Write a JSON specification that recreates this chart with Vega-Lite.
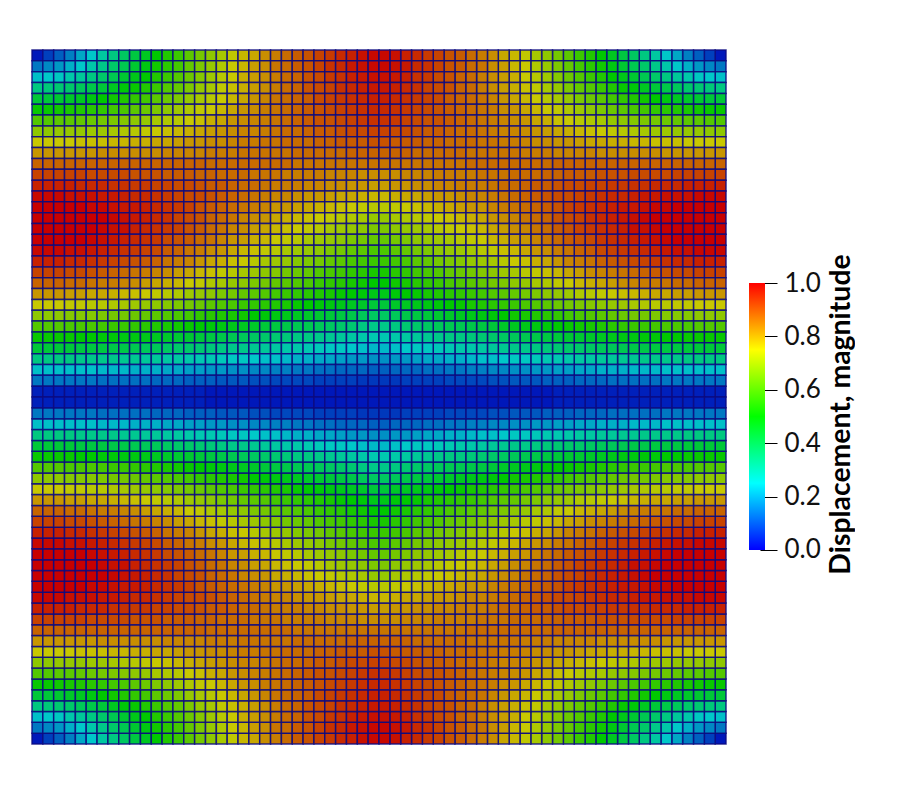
{"$schema":"https://vega.github.io/schema/vega-lite/v6.json","background":"white","padding":{"left":31,"top":49,"right":0,"bottom":0},"spacing":22,"config":{"view":{"stroke":null}},
"datasets":{"bar":[{"lo":0,"hi":1}],"cells":[
{"c":0,"r":0,"v":3},{"c":1,"r":0,"v":8},{"c":2,"r":0,"v":12},{"c":3,"r":0,"v":16},{"c":4,"r":0,"v":21},{"c":5,"r":0,"v":25},{"c":6,"r":0,"v":30},{"c":7,"r":0,"v":34},{"c":8,"r":0,"v":38},{"c":9,"r":0,"v":42},{"c":10,"r":0,"v":46},{"c":11,"r":0,"v":50},{"c":12,"r":0,"v":54},{"c":13,"r":0,"v":57},{"c":14,"r":0,"v":61},{"c":15,"r":0,"v":64},{"c":16,"r":0,"v":67},{"c":17,"r":0,"v":70},{"c":18,"r":0,"v":73},{"c":19,"r":0,"v":76},{"c":20,"r":0,"v":78},{"c":21,"r":0,"v":81},{"c":22,"r":0,"v":83},{"c":23,"r":0,"v":85},{"c":24,"r":0,"v":87},{"c":25,"r":0,"v":88},{"c":26,"r":0,"v":90},{"c":27,"r":0,"v":91},{"c":28,"r":0,"v":93},{"c":29,"r":0,"v":94},{"c":30,"r":0,"v":96},{"c":31,"r":0,"v":97},
{"c":0,"r":1,"v":15},{"c":1,"r":1,"v":17},{"c":2,"r":1,"v":19},{"c":3,"r":1,"v":22},{"c":4,"r":1,"v":25},{"c":5,"r":1,"v":29},{"c":6,"r":1,"v":33},{"c":7,"r":1,"v":37},{"c":8,"r":1,"v":40},{"c":9,"r":1,"v":44},{"c":10,"r":1,"v":48},{"c":11,"r":1,"v":52},{"c":12,"r":1,"v":55},{"c":13,"r":1,"v":58},{"c":14,"r":1,"v":62},{"c":15,"r":1,"v":65},{"c":16,"r":1,"v":68},{"c":17,"r":1,"v":71},{"c":18,"r":1,"v":74},{"c":19,"r":1,"v":76},{"c":20,"r":1,"v":79},{"c":21,"r":1,"v":81},{"c":22,"r":1,"v":84},{"c":23,"r":1,"v":85},{"c":24,"r":1,"v":87},{"c":25,"r":1,"v":88},{"c":26,"r":1,"v":90},{"c":27,"r":1,"v":92},{"c":28,"r":1,"v":93},{"c":29,"r":1,"v":95},{"c":30,"r":1,"v":96},{"c":31,"r":1,"v":97},
{"c":0,"r":2,"v":24},{"c":1,"r":2,"v":25},{"c":2,"r":2,"v":26},{"c":3,"r":2,"v":29},{"c":4,"r":2,"v":31},{"c":5,"r":2,"v":34},{"c":6,"r":2,"v":37},{"c":7,"r":2,"v":40},{"c":8,"r":2,"v":44},{"c":9,"r":2,"v":47},{"c":10,"r":2,"v":50},{"c":11,"r":2,"v":54},{"c":12,"r":2,"v":57},{"c":13,"r":2,"v":60},{"c":14,"r":2,"v":63},{"c":15,"r":2,"v":66},{"c":16,"r":2,"v":69},{"c":17,"r":2,"v":72},{"c":18,"r":2,"v":74},{"c":19,"r":2,"v":77},{"c":20,"r":2,"v":79},{"c":21,"r":2,"v":81},{"c":22,"r":2,"v":83},{"c":23,"r":2,"v":85},{"c":24,"r":2,"v":86},{"c":25,"r":2,"v":88},{"c":26,"r":2,"v":89},{"c":27,"r":2,"v":91},{"c":28,"r":2,"v":92},{"c":29,"r":2,"v":94},{"c":30,"r":2,"v":95},{"c":31,"r":2,"v":96},
{"c":0,"r":3,"v":34},{"c":1,"r":3,"v":35},{"c":2,"r":3,"v":36},{"c":3,"r":3,"v":37},{"c":4,"r":3,"v":39},{"c":5,"r":3,"v":41},{"c":6,"r":3,"v":43},{"c":7,"r":3,"v":46},{"c":8,"r":3,"v":49},{"c":9,"r":3,"v":51},{"c":10,"r":3,"v":54},{"c":11,"r":3,"v":57},{"c":12,"r":3,"v":60},{"c":13,"r":3,"v":62},{"c":14,"r":3,"v":65},{"c":15,"r":3,"v":68},{"c":16,"r":3,"v":70},{"c":17,"r":3,"v":73},{"c":18,"r":3,"v":75},{"c":19,"r":3,"v":77},{"c":20,"r":3,"v":79},{"c":21,"r":3,"v":81},{"c":22,"r":3,"v":83},{"c":23,"r":3,"v":85},{"c":24,"r":3,"v":86},{"c":25,"r":3,"v":88},{"c":26,"r":3,"v":89},{"c":27,"r":3,"v":90},{"c":28,"r":3,"v":92},{"c":29,"r":3,"v":93},{"c":30,"r":3,"v":94},{"c":31,"r":3,"v":95},
{"c":0,"r":4,"v":43},{"c":1,"r":4,"v":43},{"c":2,"r":4,"v":44},{"c":3,"r":4,"v":45},{"c":4,"r":4,"v":46},{"c":5,"r":4,"v":48},{"c":6,"r":4,"v":50},{"c":7,"r":4,"v":52},{"c":8,"r":4,"v":54},{"c":9,"r":4,"v":56},{"c":10,"r":4,"v":58},{"c":11,"r":4,"v":61},{"c":12,"r":4,"v":63},{"c":13,"r":4,"v":65},{"c":14,"r":4,"v":68},{"c":15,"r":4,"v":70},{"c":16,"r":4,"v":72},{"c":17,"r":4,"v":74},{"c":18,"r":4,"v":76},{"c":19,"r":4,"v":78},{"c":20,"r":4,"v":80},{"c":21,"r":4,"v":82},{"c":22,"r":4,"v":84},{"c":23,"r":4,"v":85},{"c":24,"r":4,"v":86},{"c":25,"r":4,"v":87},{"c":26,"r":4,"v":89},{"c":27,"r":4,"v":90},{"c":28,"r":4,"v":91},{"c":29,"r":4,"v":92},{"c":30,"r":4,"v":93},{"c":31,"r":4,"v":94},
{"c":0,"r":5,"v":51},{"c":1,"r":5,"v":51},{"c":2,"r":5,"v":52},{"c":3,"r":5,"v":53},{"c":4,"r":5,"v":54},{"c":5,"r":5,"v":55},{"c":6,"r":5,"v":56},{"c":7,"r":5,"v":58},{"c":8,"r":5,"v":59},{"c":9,"r":5,"v":61},{"c":10,"r":5,"v":63},{"c":11,"r":5,"v":65},{"c":12,"r":5,"v":67},{"c":13,"r":5,"v":69},{"c":14,"r":5,"v":71},{"c":15,"r":5,"v":73},{"c":16,"r":5,"v":74},{"c":17,"r":5,"v":76},{"c":18,"r":5,"v":78},{"c":19,"r":5,"v":80},{"c":20,"r":5,"v":81},{"c":21,"r":5,"v":83},{"c":22,"r":5,"v":84},{"c":23,"r":5,"v":85},{"c":24,"r":5,"v":86},{"c":25,"r":5,"v":87},{"c":26,"r":5,"v":88},{"c":27,"r":5,"v":89},{"c":28,"r":5,"v":90},{"c":29,"r":5,"v":91},{"c":30,"r":5,"v":92},{"c":31,"r":5,"v":93},
{"c":0,"r":6,"v":60},{"c":1,"r":6,"v":60},{"c":2,"r":6,"v":61},{"c":3,"r":6,"v":61},{"c":4,"r":6,"v":62},{"c":5,"r":6,"v":63},{"c":6,"r":6,"v":64},{"c":7,"r":6,"v":65},{"c":8,"r":6,"v":66},{"c":9,"r":6,"v":67},{"c":10,"r":6,"v":68},{"c":11,"r":6,"v":70},{"c":12,"r":6,"v":71},{"c":13,"r":6,"v":72},{"c":14,"r":6,"v":74},{"c":15,"r":6,"v":75},{"c":16,"r":6,"v":77},{"c":17,"r":6,"v":78},{"c":18,"r":6,"v":80},{"c":19,"r":6,"v":81},{"c":20,"r":6,"v":82},{"c":21,"r":6,"v":83},{"c":22,"r":6,"v":84},{"c":23,"r":6,"v":85},{"c":24,"r":6,"v":86},{"c":25,"r":6,"v":87},{"c":26,"r":6,"v":88},{"c":27,"r":6,"v":88},{"c":28,"r":6,"v":89},{"c":29,"r":6,"v":90},{"c":30,"r":6,"v":91},{"c":31,"r":6,"v":92},
{"c":0,"r":7,"v":67},{"c":1,"r":7,"v":67},{"c":2,"r":7,"v":68},{"c":3,"r":7,"v":68},{"c":4,"r":7,"v":68},{"c":5,"r":7,"v":69},{"c":6,"r":7,"v":69},{"c":7,"r":7,"v":70},{"c":8,"r":7,"v":71},{"c":9,"r":7,"v":72},{"c":10,"r":7,"v":73},{"c":11,"r":7,"v":74},{"c":12,"r":7,"v":75},{"c":13,"r":7,"v":76},{"c":14,"r":7,"v":77},{"c":15,"r":7,"v":78},{"c":16,"r":7,"v":79},{"c":17,"r":7,"v":80},{"c":18,"r":7,"v":81},{"c":19,"r":7,"v":82},{"c":20,"r":7,"v":82},{"c":21,"r":7,"v":83},{"c":22,"r":7,"v":84},{"c":23,"r":7,"v":85},{"c":24,"r":7,"v":85},{"c":25,"r":7,"v":86},{"c":26,"r":7,"v":87},{"c":27,"r":7,"v":87},{"c":28,"r":7,"v":88},{"c":29,"r":7,"v":89},{"c":30,"r":7,"v":89},{"c":31,"r":7,"v":90},
{"c":0,"r":8,"v":74},{"c":1,"r":8,"v":74},{"c":2,"r":8,"v":74},{"c":3,"r":8,"v":74},{"c":4,"r":8,"v":75},{"c":5,"r":8,"v":75},{"c":6,"r":8,"v":75},{"c":7,"r":8,"v":76},{"c":8,"r":8,"v":76},{"c":9,"r":8,"v":77},{"c":10,"r":8,"v":77},{"c":11,"r":8,"v":78},{"c":12,"r":8,"v":78},{"c":13,"r":8,"v":79},{"c":14,"r":8,"v":80},{"c":15,"r":8,"v":80},{"c":16,"r":8,"v":81},{"c":17,"r":8,"v":81},{"c":18,"r":8,"v":82},{"c":19,"r":8,"v":83},{"c":20,"r":8,"v":83},{"c":21,"r":8,"v":84},{"c":22,"r":8,"v":84},{"c":23,"r":8,"v":85},{"c":24,"r":8,"v":85},{"c":25,"r":8,"v":85},{"c":26,"r":8,"v":86},{"c":27,"r":8,"v":86},{"c":28,"r":8,"v":87},{"c":29,"r":8,"v":87},{"c":30,"r":8,"v":87},{"c":31,"r":8,"v":88},
{"c":0,"r":9,"v":80},{"c":1,"r":9,"v":80},{"c":2,"r":9,"v":80},{"c":3,"r":9,"v":80},{"c":4,"r":9,"v":80},{"c":5,"r":9,"v":80},{"c":6,"r":9,"v":81},{"c":7,"r":9,"v":81},{"c":8,"r":9,"v":81},{"c":9,"r":9,"v":81},{"c":10,"r":9,"v":81},{"c":11,"r":9,"v":81},{"c":12,"r":9,"v":82},{"c":13,"r":9,"v":82},{"c":14,"r":9,"v":82},{"c":15,"r":9,"v":82},{"c":16,"r":9,"v":83},{"c":17,"r":9,"v":83},{"c":18,"r":9,"v":83},{"c":19,"r":9,"v":84},{"c":20,"r":9,"v":84},{"c":21,"r":9,"v":84},{"c":22,"r":9,"v":84},{"c":23,"r":9,"v":84},{"c":24,"r":9,"v":85},{"c":25,"r":9,"v":85},{"c":26,"r":9,"v":85},{"c":27,"r":9,"v":85},{"c":28,"r":9,"v":85},{"c":29,"r":9,"v":86},{"c":30,"r":9,"v":86},{"c":31,"r":9,"v":86},
{"c":0,"r":10,"v":86},{"c":1,"r":10,"v":86},{"c":2,"r":10,"v":86},{"c":3,"r":10,"v":86},{"c":4,"r":10,"v":86},{"c":5,"r":10,"v":86},{"c":6,"r":10,"v":86},{"c":7,"r":10,"v":86},{"c":8,"r":10,"v":86},{"c":9,"r":10,"v":86},{"c":10,"r":10,"v":86},{"c":11,"r":10,"v":86},{"c":12,"r":10,"v":86},{"c":13,"r":10,"v":86},{"c":14,"r":10,"v":86},{"c":15,"r":10,"v":86},{"c":16,"r":10,"v":85},{"c":17,"r":10,"v":85},{"c":18,"r":10,"v":85},{"c":19,"r":10,"v":85},{"c":20,"r":10,"v":85},{"c":21,"r":10,"v":85},{"c":22,"r":10,"v":85},{"c":23,"r":10,"v":85},{"c":24,"r":10,"v":84},{"c":25,"r":10,"v":84},{"c":26,"r":10,"v":84},{"c":27,"r":10,"v":84},{"c":28,"r":10,"v":84},{"c":29,"r":10,"v":84},{"c":30,"r":10,"v":84},{"c":31,"r":10,"v":84},
{"c":0,"r":11,"v":90},{"c":1,"r":11,"v":90},{"c":2,"r":11,"v":90},{"c":3,"r":11,"v":90},{"c":4,"r":11,"v":90},{"c":5,"r":11,"v":89},{"c":6,"r":11,"v":89},{"c":7,"r":11,"v":89},{"c":8,"r":11,"v":89},{"c":9,"r":11,"v":88},{"c":10,"r":11,"v":88},{"c":11,"r":11,"v":88},{"c":12,"r":11,"v":87},{"c":13,"r":11,"v":87},{"c":14,"r":11,"v":87},{"c":15,"r":11,"v":86},{"c":16,"r":11,"v":86},{"c":17,"r":11,"v":85},{"c":18,"r":11,"v":85},{"c":19,"r":11,"v":85},{"c":20,"r":11,"v":84},{"c":21,"r":11,"v":84},{"c":22,"r":11,"v":84},{"c":23,"r":11,"v":83},{"c":24,"r":11,"v":83},{"c":25,"r":11,"v":83},{"c":26,"r":11,"v":83},{"c":27,"r":11,"v":82},{"c":28,"r":11,"v":82},{"c":29,"r":11,"v":82},{"c":30,"r":11,"v":81},{"c":31,"r":11,"v":81},
{"c":0,"r":12,"v":94},{"c":1,"r":12,"v":94},{"c":2,"r":12,"v":94},{"c":3,"r":12,"v":94},{"c":4,"r":12,"v":93},{"c":5,"r":12,"v":93},{"c":6,"r":12,"v":93},{"c":7,"r":12,"v":92},{"c":8,"r":12,"v":92},{"c":9,"r":12,"v":91},{"c":10,"r":12,"v":91},{"c":11,"r":12,"v":90},{"c":12,"r":12,"v":90},{"c":13,"r":12,"v":89},{"c":14,"r":12,"v":89},{"c":15,"r":12,"v":88},{"c":16,"r":12,"v":87},{"c":17,"r":12,"v":87},{"c":18,"r":12,"v":86},{"c":19,"r":12,"v":85},{"c":20,"r":12,"v":85},{"c":21,"r":12,"v":84},{"c":22,"r":12,"v":83},{"c":23,"r":12,"v":83},{"c":24,"r":12,"v":83},{"c":25,"r":12,"v":82},{"c":26,"r":12,"v":82},{"c":27,"r":12,"v":81},{"c":28,"r":12,"v":81},{"c":29,"r":12,"v":80},{"c":30,"r":12,"v":80},{"c":31,"r":12,"v":79},
{"c":0,"r":13,"v":97},{"c":1,"r":13,"v":97},{"c":2,"r":13,"v":97},{"c":3,"r":13,"v":96},{"c":4,"r":13,"v":96},{"c":5,"r":13,"v":96},{"c":6,"r":13,"v":95},{"c":7,"r":13,"v":95},{"c":8,"r":13,"v":94},{"c":9,"r":13,"v":93},{"c":10,"r":13,"v":93},{"c":11,"r":13,"v":92},{"c":12,"r":13,"v":91},{"c":13,"r":13,"v":90},{"c":14,"r":13,"v":89},{"c":15,"r":13,"v":89},{"c":16,"r":13,"v":88},{"c":17,"r":13,"v":87},{"c":18,"r":13,"v":86},{"c":19,"r":13,"v":85},{"c":20,"r":13,"v":84},{"c":21,"r":13,"v":83},{"c":22,"r":13,"v":82},{"c":23,"r":13,"v":82},{"c":24,"r":13,"v":81},{"c":25,"r":13,"v":80},{"c":26,"r":13,"v":80},{"c":27,"r":13,"v":79},{"c":28,"r":13,"v":78},{"c":29,"r":13,"v":78},{"c":30,"r":13,"v":77},{"c":31,"r":13,"v":76},
{"c":0,"r":14,"v":99},{"c":1,"r":14,"v":99},{"c":2,"r":14,"v":99},{"c":3,"r":14,"v":98},{"c":4,"r":14,"v":98},{"c":5,"r":14,"v":97},{"c":6,"r":14,"v":97},{"c":7,"r":14,"v":96},{"c":8,"r":14,"v":95},{"c":9,"r":14,"v":95},{"c":10,"r":14,"v":94},{"c":11,"r":14,"v":93},{"c":12,"r":14,"v":92},{"c":13,"r":14,"v":91},{"c":14,"r":14,"v":90},{"c":15,"r":14,"v":88},{"c":16,"r":14,"v":87},{"c":17,"r":14,"v":86},{"c":18,"r":14,"v":85},{"c":19,"r":14,"v":84},{"c":20,"r":14,"v":83},{"c":21,"r":14,"v":82},{"c":22,"r":14,"v":80},{"c":23,"r":14,"v":80},{"c":24,"r":14,"v":79},{"c":25,"r":14,"v":78},{"c":26,"r":14,"v":77},{"c":27,"r":14,"v":76},{"c":28,"r":14,"v":75},{"c":29,"r":14,"v":74},{"c":30,"r":14,"v":73},{"c":31,"r":14,"v":72},
{"c":0,"r":15,"v":100},{"c":1,"r":15,"v":100},{"c":2,"r":15,"v":99},{"c":3,"r":15,"v":99},{"c":4,"r":15,"v":99},{"c":5,"r":15,"v":98},{"c":6,"r":15,"v":98},{"c":7,"r":15,"v":97},{"c":8,"r":15,"v":96},{"c":9,"r":15,"v":95},{"c":10,"r":15,"v":94},{"c":11,"r":15,"v":93},{"c":12,"r":15,"v":92},{"c":13,"r":15,"v":90},{"c":14,"r":15,"v":89},{"c":15,"r":15,"v":88},{"c":16,"r":15,"v":86},{"c":17,"r":15,"v":85},{"c":18,"r":15,"v":84},{"c":19,"r":15,"v":82},{"c":20,"r":15,"v":81},{"c":21,"r":15,"v":80},{"c":22,"r":15,"v":78},{"c":23,"r":15,"v":77},{"c":24,"r":15,"v":76},{"c":25,"r":15,"v":75},{"c":26,"r":15,"v":74},{"c":27,"r":15,"v":73},{"c":28,"r":15,"v":72},{"c":29,"r":15,"v":71},{"c":30,"r":15,"v":70},{"c":31,"r":15,"v":68},
{"c":0,"r":16,"v":100},{"c":1,"r":16,"v":100},{"c":2,"r":16,"v":99},{"c":3,"r":16,"v":99},{"c":4,"r":16,"v":99},{"c":5,"r":16,"v":98},{"c":6,"r":16,"v":97},{"c":7,"r":16,"v":96},{"c":8,"r":16,"v":96},{"c":9,"r":16,"v":94},{"c":10,"r":16,"v":93},{"c":11,"r":16,"v":92},{"c":12,"r":16,"v":91},{"c":13,"r":16,"v":90},{"c":14,"r":16,"v":88},{"c":15,"r":16,"v":87},{"c":16,"r":16,"v":85},{"c":17,"r":16,"v":84},{"c":18,"r":16,"v":82},{"c":19,"r":16,"v":81},{"c":20,"r":16,"v":79},{"c":21,"r":16,"v":78},{"c":22,"r":16,"v":76},{"c":23,"r":16,"v":75},{"c":24,"r":16,"v":74},{"c":25,"r":16,"v":73},{"c":26,"r":16,"v":72},{"c":27,"r":16,"v":70},{"c":28,"r":16,"v":69},{"c":29,"r":16,"v":68},{"c":30,"r":16,"v":67},{"c":31,"r":16,"v":65},
{"c":0,"r":17,"v":99},{"c":1,"r":17,"v":99},{"c":2,"r":17,"v":99},{"c":3,"r":17,"v":98},{"c":4,"r":17,"v":98},{"c":5,"r":17,"v":97},{"c":6,"r":17,"v":96},{"c":7,"r":17,"v":95},{"c":8,"r":17,"v":94},{"c":9,"r":17,"v":93},{"c":10,"r":17,"v":92},{"c":11,"r":17,"v":91},{"c":12,"r":17,"v":89},{"c":13,"r":17,"v":88},{"c":14,"r":17,"v":87},{"c":15,"r":17,"v":85},{"c":16,"r":17,"v":84},{"c":17,"r":17,"v":82},{"c":18,"r":17,"v":80},{"c":19,"r":17,"v":79},{"c":20,"r":17,"v":77},{"c":21,"r":17,"v":76},{"c":22,"r":17,"v":74},{"c":23,"r":17,"v":73},{"c":24,"r":17,"v":72},{"c":25,"r":17,"v":70},{"c":26,"r":17,"v":69},{"c":27,"r":17,"v":68},{"c":28,"r":17,"v":67},{"c":29,"r":17,"v":65},{"c":30,"r":17,"v":64},{"c":31,"r":17,"v":62},
{"c":0,"r":18,"v":97},{"c":1,"r":18,"v":97},{"c":2,"r":18,"v":97},{"c":3,"r":18,"v":96},{"c":4,"r":18,"v":96},{"c":5,"r":18,"v":95},{"c":6,"r":18,"v":94},{"c":7,"r":18,"v":93},{"c":8,"r":18,"v":92},{"c":9,"r":18,"v":91},{"c":10,"r":18,"v":90},{"c":11,"r":18,"v":89},{"c":12,"r":18,"v":87},{"c":13,"r":18,"v":86},{"c":14,"r":18,"v":84},{"c":15,"r":18,"v":83},{"c":16,"r":18,"v":81},{"c":17,"r":18,"v":80},{"c":18,"r":18,"v":78},{"c":19,"r":18,"v":76},{"c":20,"r":18,"v":75},{"c":21,"r":18,"v":73},{"c":22,"r":18,"v":72},{"c":23,"r":18,"v":70},{"c":24,"r":18,"v":69},{"c":25,"r":18,"v":68},{"c":26,"r":18,"v":67},{"c":27,"r":18,"v":65},{"c":28,"r":18,"v":64},{"c":29,"r":18,"v":62},{"c":30,"r":18,"v":61},{"c":31,"r":18,"v":59},
{"c":0,"r":19,"v":94},{"c":1,"r":19,"v":94},{"c":2,"r":19,"v":94},{"c":3,"r":19,"v":93},{"c":4,"r":19,"v":93},{"c":5,"r":19,"v":92},{"c":6,"r":19,"v":91},{"c":7,"r":19,"v":90},{"c":8,"r":19,"v":89},{"c":9,"r":19,"v":88},{"c":10,"r":19,"v":87},{"c":11,"r":19,"v":86},{"c":12,"r":19,"v":84},{"c":13,"r":19,"v":83},{"c":14,"r":19,"v":82},{"c":15,"r":19,"v":80},{"c":16,"r":19,"v":78},{"c":17,"r":19,"v":77},{"c":18,"r":19,"v":75},{"c":19,"r":19,"v":74},{"c":20,"r":19,"v":72},{"c":21,"r":19,"v":70},{"c":22,"r":19,"v":69},{"c":23,"r":19,"v":68},{"c":24,"r":19,"v":66},{"c":25,"r":19,"v":65},{"c":26,"r":19,"v":64},{"c":27,"r":19,"v":62},{"c":28,"r":19,"v":61},{"c":29,"r":19,"v":59},{"c":30,"r":19,"v":58},{"c":31,"r":19,"v":57},
{"c":0,"r":20,"v":90},{"c":1,"r":20,"v":90},{"c":2,"r":20,"v":90},{"c":3,"r":20,"v":89},{"c":4,"r":20,"v":89},{"c":5,"r":20,"v":88},{"c":6,"r":20,"v":87},{"c":7,"r":20,"v":86},{"c":8,"r":20,"v":85},{"c":9,"r":20,"v":84},{"c":10,"r":20,"v":83},{"c":11,"r":20,"v":82},{"c":12,"r":20,"v":81},{"c":13,"r":20,"v":79},{"c":14,"r":20,"v":78},{"c":15,"r":20,"v":76},{"c":16,"r":20,"v":75},{"c":17,"r":20,"v":73},{"c":18,"r":20,"v":72},{"c":19,"r":20,"v":70},{"c":20,"r":20,"v":69},{"c":21,"r":20,"v":67},{"c":22,"r":20,"v":66},{"c":23,"r":20,"v":64},{"c":24,"r":20,"v":63},{"c":25,"r":20,"v":62},{"c":26,"r":20,"v":60},{"c":27,"r":20,"v":59},{"c":28,"r":20,"v":58},{"c":29,"r":20,"v":56},{"c":30,"r":20,"v":55},{"c":31,"r":20,"v":53},
{"c":0,"r":21,"v":86},{"c":1,"r":21,"v":86},{"c":2,"r":21,"v":86},{"c":3,"r":21,"v":85},{"c":4,"r":21,"v":85},{"c":5,"r":21,"v":84},{"c":6,"r":21,"v":83},{"c":7,"r":21,"v":83},{"c":8,"r":21,"v":82},{"c":9,"r":21,"v":81},{"c":10,"r":21,"v":79},{"c":11,"r":21,"v":78},{"c":12,"r":21,"v":77},{"c":13,"r":21,"v":76},{"c":14,"r":21,"v":74},{"c":15,"r":21,"v":73},{"c":16,"r":21,"v":71},{"c":17,"r":21,"v":70},{"c":18,"r":21,"v":68},{"c":19,"r":21,"v":67},{"c":20,"r":21,"v":65},{"c":21,"r":21,"v":64},{"c":22,"r":21,"v":62},{"c":23,"r":21,"v":61},{"c":24,"r":21,"v":60},{"c":25,"r":21,"v":59},{"c":26,"r":21,"v":57},{"c":27,"r":21,"v":56},{"c":28,"r":21,"v":55},{"c":29,"r":21,"v":53},{"c":30,"r":21,"v":52},{"c":31,"r":21,"v":50},
{"c":0,"r":22,"v":80},{"c":1,"r":22,"v":80},{"c":2,"r":22,"v":80},{"c":3,"r":22,"v":79},{"c":4,"r":22,"v":79},{"c":5,"r":22,"v":78},{"c":6,"r":22,"v":78},{"c":7,"r":22,"v":77},{"c":8,"r":22,"v":76},{"c":9,"r":22,"v":75},{"c":10,"r":22,"v":74},{"c":11,"r":22,"v":73},{"c":12,"r":22,"v":72},{"c":13,"r":22,"v":71},{"c":14,"r":22,"v":69},{"c":15,"r":22,"v":68},{"c":16,"r":22,"v":67},{"c":17,"r":22,"v":65},{"c":18,"r":22,"v":64},{"c":19,"r":22,"v":62},{"c":20,"r":22,"v":61},{"c":21,"r":22,"v":60},{"c":22,"r":22,"v":58},{"c":23,"r":22,"v":57},{"c":24,"r":22,"v":56},{"c":25,"r":22,"v":55},{"c":26,"r":22,"v":54},{"c":27,"r":22,"v":53},{"c":28,"r":22,"v":51},{"c":29,"r":22,"v":50},{"c":30,"r":22,"v":49},{"c":31,"r":22,"v":47},
{"c":0,"r":23,"v":74},{"c":1,"r":23,"v":74},{"c":2,"r":23,"v":74},{"c":3,"r":23,"v":73},{"c":4,"r":23,"v":73},{"c":5,"r":23,"v":72},{"c":6,"r":23,"v":72},{"c":7,"r":23,"v":71},{"c":8,"r":23,"v":70},{"c":9,"r":23,"v":69},{"c":10,"r":23,"v":68},{"c":11,"r":23,"v":67},{"c":12,"r":23,"v":66},{"c":13,"r":23,"v":65},{"c":14,"r":23,"v":64},{"c":15,"r":23,"v":63},{"c":16,"r":23,"v":61},{"c":17,"r":23,"v":60},{"c":18,"r":23,"v":59},{"c":19,"r":23,"v":57},{"c":20,"r":23,"v":56},{"c":21,"r":23,"v":55},{"c":22,"r":23,"v":54},{"c":23,"r":23,"v":53},{"c":24,"r":23,"v":51},{"c":25,"r":23,"v":50},{"c":26,"r":23,"v":49},{"c":27,"r":23,"v":48},{"c":28,"r":23,"v":47},{"c":29,"r":23,"v":46},{"c":30,"r":23,"v":45},{"c":31,"r":23,"v":43},
{"c":0,"r":24,"v":67},{"c":1,"r":24,"v":67},{"c":2,"r":24,"v":67},{"c":3,"r":24,"v":66},{"c":4,"r":24,"v":66},{"c":5,"r":24,"v":66},{"c":6,"r":24,"v":65},{"c":7,"r":24,"v":64},{"c":8,"r":24,"v":64},{"c":9,"r":24,"v":63},{"c":10,"r":24,"v":62},{"c":11,"r":24,"v":61},{"c":12,"r":24,"v":60},{"c":13,"r":24,"v":59},{"c":14,"r":24,"v":58},{"c":15,"r":24,"v":56},{"c":16,"r":24,"v":55},{"c":17,"r":24,"v":54},{"c":18,"r":24,"v":53},{"c":19,"r":24,"v":52},{"c":20,"r":24,"v":50},{"c":21,"r":24,"v":49},{"c":22,"r":24,"v":48},{"c":23,"r":24,"v":47},{"c":24,"r":24,"v":46},{"c":25,"r":24,"v":45},{"c":26,"r":24,"v":44},{"c":27,"r":24,"v":43},{"c":28,"r":24,"v":42},{"c":29,"r":24,"v":41},{"c":30,"r":24,"v":39},{"c":31,"r":24,"v":38},
{"c":0,"r":25,"v":60},{"c":1,"r":25,"v":60},{"c":2,"r":25,"v":60},{"c":3,"r":25,"v":59},{"c":4,"r":25,"v":59},{"c":5,"r":25,"v":59},{"c":6,"r":25,"v":58},{"c":7,"r":25,"v":57},{"c":8,"r":25,"v":57},{"c":9,"r":25,"v":56},{"c":10,"r":25,"v":55},{"c":11,"r":25,"v":54},{"c":12,"r":25,"v":53},{"c":13,"r":25,"v":52},{"c":14,"r":25,"v":51},{"c":15,"r":25,"v":50},{"c":16,"r":25,"v":49},{"c":17,"r":25,"v":48},{"c":18,"r":25,"v":47},{"c":19,"r":25,"v":46},{"c":20,"r":25,"v":45},{"c":21,"r":25,"v":43},{"c":22,"r":25,"v":42},{"c":23,"r":25,"v":41},{"c":24,"r":25,"v":40},{"c":25,"r":25,"v":40},{"c":26,"r":25,"v":39},{"c":27,"r":25,"v":38},{"c":28,"r":25,"v":37},{"c":29,"r":25,"v":36},{"c":30,"r":25,"v":34},{"c":31,"r":25,"v":33},
{"c":0,"r":26,"v":51},{"c":1,"r":26,"v":51},{"c":2,"r":26,"v":51},{"c":3,"r":26,"v":51},{"c":4,"r":26,"v":50},{"c":5,"r":26,"v":50},{"c":6,"r":26,"v":49},{"c":7,"r":26,"v":49},{"c":8,"r":26,"v":48},{"c":9,"r":26,"v":48},{"c":10,"r":26,"v":47},{"c":11,"r":26,"v":46},{"c":12,"r":26,"v":45},{"c":13,"r":26,"v":44},{"c":14,"r":26,"v":44},{"c":15,"r":26,"v":43},{"c":16,"r":26,"v":42},{"c":17,"r":26,"v":41},{"c":18,"r":26,"v":40},{"c":19,"r":26,"v":39},{"c":20,"r":26,"v":38},{"c":21,"r":26,"v":37},{"c":22,"r":26,"v":36},{"c":23,"r":26,"v":35},{"c":24,"r":26,"v":34},{"c":25,"r":26,"v":34},{"c":26,"r":26,"v":33},{"c":27,"r":26,"v":32},{"c":28,"r":26,"v":31},{"c":29,"r":26,"v":30},{"c":30,"r":26,"v":29},{"c":31,"r":26,"v":28},
{"c":0,"r":27,"v":43},{"c":1,"r":27,"v":43},{"c":2,"r":27,"v":43},{"c":3,"r":27,"v":43},{"c":4,"r":27,"v":42},{"c":5,"r":27,"v":42},{"c":6,"r":27,"v":42},{"c":7,"r":27,"v":41},{"c":8,"r":27,"v":41},{"c":9,"r":27,"v":40},{"c":10,"r":27,"v":39},{"c":11,"r":27,"v":39},{"c":12,"r":27,"v":38},{"c":13,"r":27,"v":37},{"c":14,"r":27,"v":37},{"c":15,"r":27,"v":36},{"c":16,"r":27,"v":35},{"c":17,"r":27,"v":34},{"c":18,"r":27,"v":33},{"c":19,"r":27,"v":33},{"c":20,"r":27,"v":32},{"c":21,"r":27,"v":31},{"c":22,"r":27,"v":30},{"c":23,"r":27,"v":29},{"c":24,"r":27,"v":29},{"c":25,"r":27,"v":28},{"c":26,"r":27,"v":27},{"c":27,"r":27,"v":26},{"c":28,"r":27,"v":26},{"c":29,"r":27,"v":25},{"c":30,"r":27,"v":24},{"c":31,"r":27,"v":23},
{"c":0,"r":28,"v":34},{"c":1,"r":28,"v":34},{"c":2,"r":28,"v":34},{"c":3,"r":28,"v":34},{"c":4,"r":28,"v":33},{"c":5,"r":28,"v":33},{"c":6,"r":28,"v":33},{"c":7,"r":28,"v":33},{"c":8,"r":28,"v":32},{"c":9,"r":28,"v":32},{"c":10,"r":28,"v":31},{"c":11,"r":28,"v":31},{"c":12,"r":28,"v":30},{"c":13,"r":28,"v":30},{"c":14,"r":28,"v":29},{"c":15,"r":28,"v":28},{"c":16,"r":28,"v":28},{"c":17,"r":28,"v":27},{"c":18,"r":28,"v":26},{"c":19,"r":28,"v":26},{"c":20,"r":28,"v":25},{"c":21,"r":28,"v":24},{"c":22,"r":28,"v":24},{"c":23,"r":28,"v":23},{"c":24,"r":28,"v":22},{"c":25,"r":28,"v":22},{"c":26,"r":28,"v":21},{"c":27,"r":28,"v":21},{"c":28,"r":28,"v":20},{"c":29,"r":28,"v":19},{"c":30,"r":28,"v":19},{"c":31,"r":28,"v":18},
{"c":0,"r":29,"v":24},{"c":1,"r":29,"v":24},{"c":2,"r":29,"v":24},{"c":3,"r":29,"v":24},{"c":4,"r":29,"v":24},{"c":5,"r":29,"v":24},{"c":6,"r":29,"v":23},{"c":7,"r":29,"v":23},{"c":8,"r":29,"v":23},{"c":9,"r":29,"v":22},{"c":10,"r":29,"v":22},{"c":11,"r":29,"v":22},{"c":12,"r":29,"v":21},{"c":13,"r":29,"v":21},{"c":14,"r":29,"v":20},{"c":15,"r":29,"v":20},{"c":16,"r":29,"v":19},{"c":17,"r":29,"v":19},{"c":18,"r":29,"v":18},{"c":19,"r":29,"v":18},{"c":20,"r":29,"v":17},{"c":21,"r":29,"v":17},{"c":22,"r":29,"v":16},{"c":23,"r":29,"v":16},{"c":24,"r":29,"v":15},{"c":25,"r":29,"v":15},{"c":26,"r":29,"v":14},{"c":27,"r":29,"v":14},{"c":28,"r":29,"v":13},{"c":29,"r":29,"v":13},{"c":30,"r":29,"v":13},{"c":31,"r":29,"v":12},
{"c":0,"r":30,"v":15},{"c":1,"r":30,"v":15},{"c":2,"r":30,"v":15},{"c":3,"r":30,"v":15},{"c":4,"r":30,"v":15},{"c":5,"r":30,"v":15},{"c":6,"r":30,"v":14},{"c":7,"r":30,"v":14},{"c":8,"r":30,"v":14},{"c":9,"r":30,"v":14},{"c":10,"r":30,"v":14},{"c":11,"r":30,"v":13},{"c":12,"r":30,"v":13},{"c":13,"r":30,"v":13},{"c":14,"r":30,"v":12},{"c":15,"r":30,"v":12},{"c":16,"r":30,"v":12},{"c":17,"r":30,"v":11},{"c":18,"r":30,"v":11},{"c":19,"r":30,"v":11},{"c":20,"r":30,"v":10},{"c":21,"r":30,"v":10},{"c":22,"r":30,"v":9},{"c":23,"r":30,"v":9},{"c":24,"r":30,"v":9},{"c":25,"r":30,"v":9},{"c":26,"r":30,"v":8},{"c":27,"r":30,"v":8},{"c":28,"r":30,"v":8},{"c":29,"r":30,"v":8},{"c":30,"r":30,"v":7},{"c":31,"r":30,"v":7},
{"c":0,"r":31,"v":4},{"c":1,"r":31,"v":4},{"c":2,"r":31,"v":4},{"c":3,"r":31,"v":4},{"c":4,"r":31,"v":4},{"c":5,"r":31,"v":4},{"c":6,"r":31,"v":4},{"c":7,"r":31,"v":4},{"c":8,"r":31,"v":4},{"c":9,"r":31,"v":4},{"c":10,"r":31,"v":4},{"c":11,"r":31,"v":4},{"c":12,"r":31,"v":4},{"c":13,"r":31,"v":4},{"c":14,"r":31,"v":4},{"c":15,"r":31,"v":4},{"c":16,"r":31,"v":3},{"c":17,"r":31,"v":3},{"c":18,"r":31,"v":3},{"c":19,"r":31,"v":3},{"c":20,"r":31,"v":3},{"c":21,"r":31,"v":3},{"c":22,"r":31,"v":3},{"c":23,"r":31,"v":3},{"c":24,"r":31,"v":3},{"c":25,"r":31,"v":3},{"c":26,"r":31,"v":3},{"c":27,"r":31,"v":3},{"c":28,"r":31,"v":3},{"c":29,"r":31,"v":3},{"c":30,"r":31,"v":3},{"c":31,"r":31,"v":3}
]},
"hconcat":[
{"width":694,"height":694,"data":{"name":"cells"},
"encoding":{"color":{"field":"v","type":"quantitative","legend":null,"scale":{"interpolate":"rgb","clamp":true,"domain":[0,25,50,74,98],"range":["#0000b8","#00c8c8","#00c800","#c8c800","#c80000"]}}},
"resolve":{"scale":{"x":"independent","y":"independent"}},
"layer":[
{"mark":{"type":"rect","stroke":"#0c0a80","strokeWidth":1.5,"strokeOpacity":0.85},"encoding":{"x":{"field":"c","type":"ordinal","axis":null,"scale":{"paddingInner":0,"paddingOuter":0,"domain":[0,1,2,3,4,5,6,7,8,9,10,11,12,13,14,15,16,17,18,19,20,21,22,23,24,25,26,27,28,29,30,31,32,33,34,35,36,37,38,39,40,41,42,43,44,45,46,47,48,49,50,51,52,53,54,55,56,57,58,59,60,61,62,63]}},"y":{"field":"r","type":"ordinal","axis":null,"scale":{"paddingInner":0,"paddingOuter":0,"domain":[0,1,2,3,4,5,6,7,8,9,10,11,12,13,14,15,16,17,18,19,20,21,22,23,24,25,26,27,28,29,30,31,32,33,34,35,36,37,38,39,40,41,42,43,44,45,46,47,48,49,50,51,52,53,54,55,56,57,58,59,60,61,62,63]}}}},
{"mark":{"type":"rect","stroke":"#0c0a80","strokeWidth":1.5,"strokeOpacity":0.85},"encoding":{"x":{"field":"c","type":"ordinal","axis":null,"scale":{"reverse":true,"paddingInner":0,"paddingOuter":0,"domain":[0,1,2,3,4,5,6,7,8,9,10,11,12,13,14,15,16,17,18,19,20,21,22,23,24,25,26,27,28,29,30,31,32,33,34,35,36,37,38,39,40,41,42,43,44,45,46,47,48,49,50,51,52,53,54,55,56,57,58,59,60,61,62,63]}},"y":{"field":"r","type":"ordinal","axis":null,"scale":{"paddingInner":0,"paddingOuter":0,"domain":[0,1,2,3,4,5,6,7,8,9,10,11,12,13,14,15,16,17,18,19,20,21,22,23,24,25,26,27,28,29,30,31,32,33,34,35,36,37,38,39,40,41,42,43,44,45,46,47,48,49,50,51,52,53,54,55,56,57,58,59,60,61,62,63]}}}},
{"mark":{"type":"rect","stroke":"#0c0a80","strokeWidth":1.5,"strokeOpacity":0.85},"encoding":{"x":{"field":"c","type":"ordinal","axis":null,"scale":{"paddingInner":0,"paddingOuter":0,"domain":[0,1,2,3,4,5,6,7,8,9,10,11,12,13,14,15,16,17,18,19,20,21,22,23,24,25,26,27,28,29,30,31,32,33,34,35,36,37,38,39,40,41,42,43,44,45,46,47,48,49,50,51,52,53,54,55,56,57,58,59,60,61,62,63]}},"y":{"field":"r","type":"ordinal","axis":null,"scale":{"reverse":true,"paddingInner":0,"paddingOuter":0,"domain":[0,1,2,3,4,5,6,7,8,9,10,11,12,13,14,15,16,17,18,19,20,21,22,23,24,25,26,27,28,29,30,31,32,33,34,35,36,37,38,39,40,41,42,43,44,45,46,47,48,49,50,51,52,53,54,55,56,57,58,59,60,61,62,63]}}}},
{"mark":{"type":"rect","stroke":"#0c0a80","strokeWidth":1.5,"strokeOpacity":0.85},"encoding":{"x":{"field":"c","type":"ordinal","axis":null,"scale":{"reverse":true,"paddingInner":0,"paddingOuter":0,"domain":[0,1,2,3,4,5,6,7,8,9,10,11,12,13,14,15,16,17,18,19,20,21,22,23,24,25,26,27,28,29,30,31,32,33,34,35,36,37,38,39,40,41,42,43,44,45,46,47,48,49,50,51,52,53,54,55,56,57,58,59,60,61,62,63]}},"y":{"field":"r","type":"ordinal","axis":null,"scale":{"reverse":true,"paddingInner":0,"paddingOuter":0,"domain":[0,1,2,3,4,5,6,7,8,9,10,11,12,13,14,15,16,17,18,19,20,21,22,23,24,25,26,27,28,29,30,31,32,33,34,35,36,37,38,39,40,41,42,43,44,45,46,47,48,49,50,51,52,53,54,55,56,57,58,59,60,61,62,63]}}}}
]},
{"width":16,"height":694,"data":{"name":"bar"},
"mark":{"type":"rect","fill":{"gradient":"linear","x1":0,"y1":1,"x2":0,"y2":0,"stops":[{"offset":0,"color":"#0000ff"},{"offset":0.25,"color":"#00ffff"},{"offset":0.5,"color":"#00ff00"},{"offset":0.75,"color":"#ffff00"},{"offset":1,"color":"#ff0000"}]}},
"encoding":{"y":{"field":"lo","type":"quantitative","scale":{"domain":[-0.727,1.873],"nice":false,"zero":false},"axis":{"orient":"right","offset":-5,"values":[0,0.2,0.4,0.6,0.8,1],"format":".1f","domain":false,"grid":false,"tickSize":17,"tickColor":"#000000","tickWidth":1,"labelFont":"Lato","labelFontSize":26,"labelColor":"#111111","labelPadding":7,"title":"Displacement, magnitude","titleFont":"Lato","titleFontWeight":"bold","titleFontSize":28.4,"titleColor":"#000000","titleAngle":-90,"titleX":95,"titleY":364,"titleAlign":"center","titleBaseline":"bottom"}},"y2":{"field":"hi"}}}
]}
